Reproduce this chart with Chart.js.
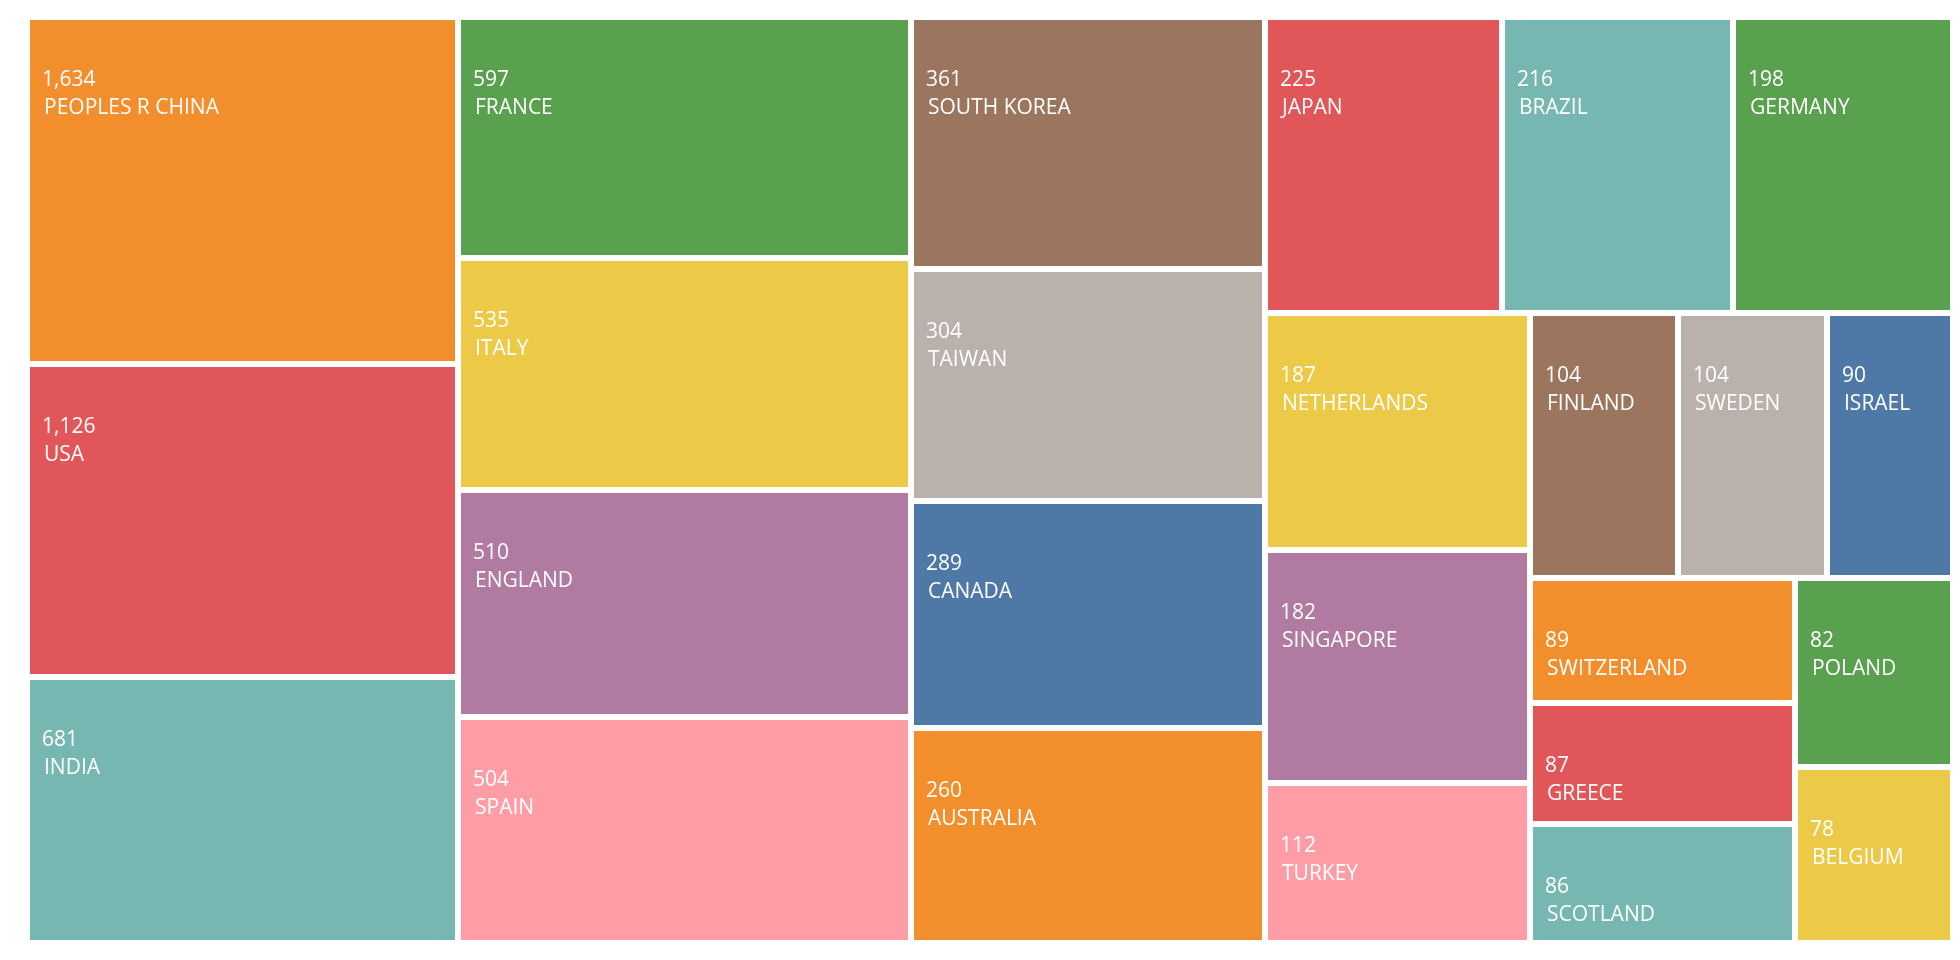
<!DOCTYPE html>
<html>
<head>
<meta charset="utf-8">
<script src="https://cdn.jsdelivr.net/npm/chart.js@4.4.1/dist/chart.umd.min.js"></script>
<style>
  html, body { margin: 0; padding: 0; background: #ffffff; }
  #wrap { width: 1960px; height: 960px; position: relative; }
</style>
</head>
<body>
<div id="wrap"><canvas id="c" width="1960" height="960"></canvas></div>
<script>
// ---- data ----
const countries = [
  'PEOPLES R CHINA', 'USA', 'INDIA', 'FRANCE', 'ITALY', 'ENGLAND', 'SPAIN',
  'SOUTH KOREA', 'TAIWAN', 'CANADA', 'AUSTRALIA', 'JAPAN', 'BRAZIL', 'GERMANY',
  'NETHERLANDS', 'SINGAPORE', 'TURKEY', 'FINLAND', 'SWEDEN', 'ISRAEL',
  'SWITZERLAND', 'GREECE', 'SCOTLAND', 'POLAND', 'BELGIUM'
];
const publications = [
  1634, 1126, 681, 597, 535, 510, 504,
  361, 304, 289, 260, 225, 216, 198,
  187, 182, 112, 104, 104, 90,
  89, 87, 86, 82, 78
];
const palette = [
  '#F28E2B', '#E15759', '#76B7B2', '#59A14F', '#EDC948',
  '#B07AA1', '#FF9DA7', '#9C755F', '#BAB0AC', '#4E79A7'
];
// cell size follows a log scale of the count, relative to this baseline
const logBaseline = 39;

// ---- squarified layout (golden-ratio target), computed in data units ----
function squarify(weights, x0, y0, x1, y1, ratio) {
  const n = weights.length;
  const rects = new Array(n);
  let value = weights.reduce((a, b) => a + b, 0);
  let i0 = 0, i1 = 0;
  while (i0 < n) {
    const dx = x1 - x0, dy = y1 - y0;
    let sumValue = weights[i1++];
    let minValue = sumValue, maxValue = sumValue;
    const alpha = Math.max(dy / dx, dx / dy) / (value * ratio);
    let beta = sumValue * sumValue * alpha;
    let minRatio = Math.max(maxValue / beta, beta / minValue);
    for (; i1 < n; ++i1) {
      const nv = weights[i1];
      sumValue += nv;
      if (nv < minValue) minValue = nv;
      if (nv > maxValue) maxValue = nv;
      beta = sumValue * sumValue * alpha;
      const newRatio = Math.max(maxValue / beta, beta / minValue);
      if (newRatio > minRatio) { sumValue -= nv; break; }
      minRatio = newRatio;
    }
    if (dx < dy) {
      const yEnd = i1 >= n ? y1 : y0 + dy * sumValue / value;
      let x = x0; const k = (x1 - x0) / sumValue;
      for (let i = i0; i < i1; i++) {
        const w = weights[i] * k;
        rects[i] = { x0: x, x1: (i === i1 - 1) ? x1 : x + w, y0: y0, y1: yEnd };
        x += w;
      }
      y0 = yEnd;
    } else {
      const xEnd = i1 >= n ? x1 : x0 + dx * sumValue / value;
      let y = y0; const k = (y1 - y0) / sumValue;
      for (let i = i0; i < i1; i++) {
        const h = weights[i] * k;
        rects[i] = { x0: x0, x1: xEnd, y0: y, y1: (i === i1 - 1) ? y1 : y + h };
        y += h;
      }
      x0 = xEnd;
    }
    value -= sumValue;
    i0 = i1;
  }
  return rects;
}

const treemapPlugin = {
  id: 'treemapCells',
  afterDatasetsDraw(chart, args, opts) {
    const xs = chart.scales.x, ys = chart.scales.y;
    const ctx = chart.ctx;
    const weights = publications.map(v => Math.log(v / logBaseline));
    const rects = squarify(weights, xs.min, ys.min, xs.max, ys.max, (1 + Math.sqrt(5)) / 2);
    const gap = opts.gap;
    ctx.save();
    rects.forEach((r, i) => {
      const left = Math.round(xs.getPixelForValue(r.x0)) + gap;
      const right = Math.round(xs.getPixelForValue(r.x1)) - gap;
      const top = Math.round(ys.getPixelForValue(r.y0)) + gap;
      const bottom = Math.round(ys.getPixelForValue(r.y1)) - gap;
      ctx.fillStyle = palette[i % palette.length];
      ctx.fillRect(left, top, right - left, bottom - top);
      ctx.fillStyle = '#ffffff';
      ctx.font = opts.font;
      ctx.textBaseline = 'alphabetic';
      ctx.textAlign = 'left';
      ctx.fillText(publications[i].toLocaleString('en-US'), left + 12, top + 66);
      ctx.fillText(countries[i], left + 14, top + 94);
    });
    ctx.restore();
  }
};

new Chart(document.getElementById('c'), {
  type: 'scatter',
  data: { datasets: [{ label: 'Publications', data: [] }] },
  options: {
    responsive: false,
    animation: false,
    layout: { padding: { left: 27, right: 7, top: 17, bottom: 17 } },
    scales: {
      x: { type: 'linear', min: 0, max: 1926, display: false },
      y: { type: 'linear', min: 0, max: 926, reverse: true, display: false }
    },
    plugins: {
      legend: { display: false },
      tooltip: { enabled: false },
      treemapCells: { gap: 3, font: '21px "Segoe UI", "Open Sans", sans-serif' }
    }
  },
  plugins: [treemapPlugin]
});
</script>
</body>
</html>
